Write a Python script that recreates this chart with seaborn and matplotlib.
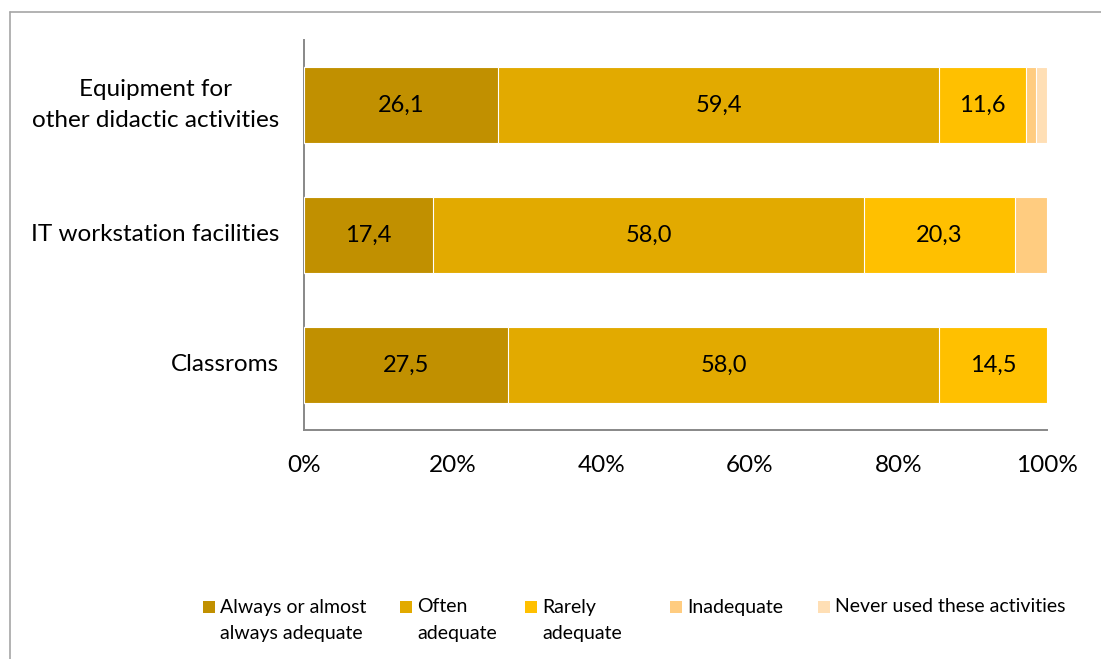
import matplotlib
matplotlib.use("Agg")
import matplotlib.pyplot as plt
from matplotlib.lines import Line2D
from matplotlib.patches import Rectangle
import numpy as np
import pandas as pd
import seaborn as sns

# Survey items, top to bottom
categories = ["Equipment for\nother didactic activities",
              "IT workstation facilities",
              "Classroms"]

# Share of answers (%) per rating
always = [26.1, 17.4, 27.5]
often = [59.4, 58.0, 58.0]
rarely = [11.6, 20.3, 14.5]
inadequate = [1.4, 4.3, 0.0]
never_used = [1.5, 0.0, 0.0]

series_names = ["Always or almost\nalways adequate", "Often\nadequate",
                "Rarely\nadequate", "Inadequate", "Never used these activities"]
series_values = [always, often, rarely, inadequate, never_used]
series_colors = ["#C19000", "#E2AA00", "#FFC000", "#FFCC80", "#FFDFB5"]
labelled = [True, True, True, False, False]

tick_values = [0, 20, 40, 60, 80, 100]
tick_labels = ["0%", "20%", "40%", "60%", "80%", "100%"]

sns.set_theme(style="white")
plt.rcParams["font.family"] = ["Lato", "DejaVu Sans"]

fig = plt.figure(figsize=(11.01, 6.59), dpi=100)
ax = fig.add_axes([0.2761, 0.3475, 0.9510 - 0.2761, 0.9393 - 0.3475])

# Stacked bars: draw cumulative totals from the outermost segment inwards
cum = np.cumsum(np.array(series_values), axis=0)
for i in range(len(series_values) - 1, -1, -1):
    df = pd.DataFrame({"item": categories, "value": cum[i]})
    sns.barplot(data=df, x="value", y="item", orient="h", color=series_colors[i],
                width=0.58, edgecolor="white", linewidth=0.8,
                saturation=1, ax=ax, zorder=2 + (len(series_values) - i))

# Value labels centred in each segment
starts = cum - np.array(series_values)
for i, vals in enumerate(series_values):
    if not labelled[i]:
        continue
    for j, v in enumerate(vals):
        ax.text(starts[i][j] + v / 2, j, f"{v:.1f}".replace(".", ","),
                ha="center", va="center", fontsize=17, color="black", zorder=20)

ax.set_xlim(0, 100)
ax.set_ylim(2.5, -0.5)
ax.set_xticks(tick_values)
ax.set_xticklabels(tick_labels)
ax.set_xlabel("")
ax.set_ylabel("")
ax.tick_params(axis="x", length=0, pad=18, labelsize=17.5, labelcolor="black")
ax.tick_params(axis="y", length=0, pad=18, labelsize=17.5, labelcolor="black")
for lbl in ax.get_yticklabels():
    lbl.set_horizontalalignment("right")
    lbl.set_verticalalignment("center")
    lbl.set_multialignment("center")
    lbl.set_linespacing(1.55)
ax.grid(False)
for side in ["top", "right"]:
    ax.spines[side].set_visible(False)
for side in ["left", "bottom"]:
    ax.spines[side].set_color("#888888")
    ax.spines[side].set_linewidth(1.4)

# Legend: square markers with wrapped labels
W, H = 1101.0, 659.0
legend_x = [203, 400, 525, 670, 818]
legend_y = 607
for x, name, col in zip(legend_x, series_names, series_colors):
    fig.patches.append(Rectangle((x / W, (H - legend_y - 6) / H), 12 / W, 12 / H,
                                 transform=fig.transFigure, facecolor=col,
                                 edgecolor="none"))
    lines = name.split("\n")
    for k, line in enumerate(lines):
        fig.text((x + 17) / W, (H - legend_y - 27 * k) / H, line,
                 ha="left", va="center", fontsize=14, color="black")

# Outer chart frame (top and left edges)
fig.add_artist(Line2D([10 / W, 1.0], [1 - 12 / H, 1 - 12 / H], transform=fig.transFigure,
                      color="#A6A6A6", linewidth=1.2))
fig.add_artist(Line2D([10 / W, 10 / W], [0.0, 1 - 12 / H], transform=fig.transFigure,
                      color="#A6A6A6", linewidth=1.2))

fig.savefig("out.png", dpi=100)
